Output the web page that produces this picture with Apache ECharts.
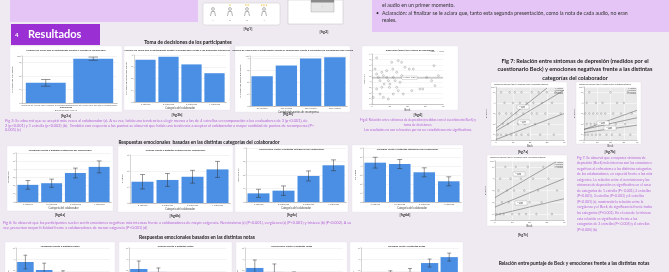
<!DOCTYPE html>
<html><head><meta charset="utf-8">
<script src="https://cdn.jsdelivr.net/npm/echarts@6/dist/echarts.min.js"></script>
<style>html,body{margin:0;padding:0;background:#efe9f1;}#c{width:669px;height:272px;}</style>
</head><body><div id="c"></div>
<script>
// ---------------- DATA ----------------
const fig3aCats = ['Número de veces que rechazó al colaborador', 'Número de veces que aceptó al colaborador'];
const fig3aVals = [1.5, 3.3];
const fig3aErr = [0.25, 0.12];
const starCats = ['1 estrella', '2 estrellas', '3 estrellas', '4 estrellas'];
const fig3bVals = [3.6, 3.85, 3.2, 2.45];
const pointCats = ['50 puntos', '100 puntos', '150 puntos', '200 puntos'];
const fig3cVals = [2.5, 3.4, 4.0, 4.1];
const fig4Beck = [2.6,1.7,2.6,3.6,4.5,5.5,6.4,6.8,8.3,8.3,9.2,9.8,10.1,11.1,11.7,12.0,13.0,13.9,13.9,14.8,14.8,15.8,16.7,16.7,17.6,18.6,21.0,22.4,23.3,22.4,27.0,28.6,30.8,33.6,34.9,35.5,37.4,0.7,4.5,6.4,9.2,12.0,17.6,2.6,5.5];
const fig4Dec  = [8.3,6.3,5.4,4.8,4.2,5.7,5.1,3.6,6.0,4.8,4.2,3.0,3.6,7.5,6.3,4.8,4.2,5.7,3.0,7.8,2.4,3.9,7.5,5.1,4.8,6.6,6.3,4.8,6.3,2.4,2.7,2.7,4.8,4.2,6.9,3.3,5.1,1.2,1.8,1.2,0.9,1.8,1.8,2.7,3.0];
const fig4Fit = [[0, 4.7], [40, 4.7]];
const fig6aVals = [2.1, 2.3, 3.55, 4.3];   const fig6aErr = [0.53, 0.5, 0.6, 0.73];
const fig6bVals = [1.33, 1.44, 1.64, 2.1]; const fig6bErr = [0.45, 0.4, 0.4, 0.5];
const fig6cVals = [0.64, 0.84, 1.93, 2.72];const fig6cErr = [0.3, 0.35, 0.37, 0.4];
const fig6dVals = [4.37, 4.22, 3.3, 2.3];  const fig6dErr = [0.6, 0.5, 0.5, 0.5];
const notaCats = ['Nota 1', 'Nota 2', 'Nota 3', 'Nota 4', 'Nota 5'];
const fig8aVals = [3.77, 3.07, 2.5, 2.0, 1.6]; const fig8aErr = [0.6, 0.6, 0.5, 0.5, 0.4];
const fig8bVals = [3.16, 2.9, 2.3, 2.0, 1.8];  const fig8bErr = [0.7, 0.35, 0.4, 0.4, 0.4];
const fig8cVals = [3.25, 2.9, 2.4, 2.0, 1.7];  const fig8cErr = [0.7, 0.7, 0.5, 0.4, 0.4];
const fig8dVals = [1.0, 2.6, 2.8, 3.68, 4.2];  const fig8dErr = [0.3, 0.4, 0.4, 0.35, 0.35];
const fig7aPts = [[3,5],[8,5],[11,5],[15,5],[21,5],[25,5],[30,5],[35,5],[5,4],[10,4],[14,4],[18,4],[22,4],[27,4],[33,4],[2,3],[6,3],[9,3],[12,3],[16,3],[21,3],[24,3],[29,3],[38,3],[4,2],[7,2],[13,2],[17,2],[23,2],[31,2],[1,1],[3,1],[6,1],[9,1],[12,1],[15,1],[19,1],[26,1],[34,1]];
const fig7aLines = [[[0,1.6],[30,5.4]], [[0,1.35],[40,5.2]], [[0,0.55],[40,3.0]]];
const fig7bPts = [[4,5],[20,5],[33,5],[2,4],[9,4],[14,4],[25,4],[30,4],[1,3],[4,3],[7,3],[10,3],[13,3],[16,3],[22,3],[28,3],[36,3],[2,2],[5,2],[8,2],[11,2],[15,2],[19,2],[24,2],[31,2],[1,1],[3,1],[6,1],[9,1],[12,1],[17,1],[21,1],[27,1],[35,1]];
const fig7bLines = [[[0,1.5],[40,3.3]], [[0,1.5],[40,2.6]], [[0,1.2],[40,1.9]]];
const fig7cPts = [[6,5],[12,5],[19,5],[28,5],[3,4],[9,4],[15,4],[22,4],[31,4],[2,3],[7,3],[11,3],[17,3],[25,3],[36,3],[4,2],[8,2],[13,2],[20,2],[27,2],[1,1],[3,1],[5,1],[10,1],[14,1],[18,1],[24,1],[33,1]];
const fig7cLines = [[[0,2.4],[35,5.4]], [[0,1.6],[40,4.0]], [[0,0.9],[40,2.3]]];

// ---------------- BUILD ----------------
const BLUE = '#4a8fe3', PURPLE_T = '#b566da', FONT = 'Lato, "Noto Sans", sans-serif';
const grids = [], xAxes = [], yAxes = [], series = [], gfx = [];
function txt(x, y, s, size, color, o = {}) {
  gfx.push({type:'text', x, y, z: o.z ?? 20, rotation: o.rot || 0, silent:true,
    style:{text:s, fontSize:size, fontFamily:o.family || FONT, fontWeight:o.bold ? 'bold' : 'normal',
      fill:color, align:o.align || 'left', verticalAlign:'middle'}});
}
function rect(x, y, w, h, fill, o = {}) {
  gfx.push({type:'rect', z: o.z ?? -5, silent:true, shape:{x, y, width:w, height:h, r:o.r || 0},
    style:{fill, stroke:o.stroke || null, lineWidth:o.lw || 0.5}});
}
function mkGrid(box, extra = {}) {
  return Object.assign({left:box[0], top:box[1], width:box[2], height:box[3], outerBoundsMode:'none', containLabel:false}, extra);
}
function errBars(i, vals, errs) {
  return {type:'custom', xAxisIndex:i, yAxisIndex:i, z:5, silent:true,
    data: vals.map((v, k) => [k, v - errs[k], v + errs[k]]),
    renderItem(p, api) {
      const lo = api.coord([api.value(0), api.value(1)]);
      const hi = api.coord([api.value(0), api.value(2)]);
      const w = api.size([1, 0])[0] * 0.1;
      const st = {stroke:'#333', lineWidth:0.5};
      return {type:'group', children:[
        {type:'line', shape:{x1:lo[0], y1:lo[1], x2:hi[0], y2:hi[1]}, style:st},
        {type:'line', shape:{x1:hi[0]-w, y1:hi[1], x2:hi[0]+w, y2:hi[1]}, style:st},
        {type:'line', shape:{x1:lo[0]-w, y1:lo[1], x2:lo[0]+w, y2:lo[1]}, style:st}]};
    }};
}
const axLbl = {fontSize:2.4, color:'#555', margin:1.5};
function bar(box, cats, vals, errs, yMax, yInt, o = {}) {
  const i = grids.length;
  grids.push(mkGrid(box));
  xAxes.push({gridIndex:i, type:'category', data:cats, name:o.xName || '', nameLocation:'middle', nameGap:5,
    nameTextStyle:{fontSize:2.6, color:'#444'}, axisLine:{lineStyle:{color:'#999', width:0.5}},
    axisTick:{show:true, length:1, lineStyle:{width:0.4, color:'#999'}}, axisLabel:Object.assign({interval:0}, axLbl)});
  yAxes.push({gridIndex:i, type:'value', min:0, max:yMax, interval:yInt, name:o.yName || '', nameLocation:'middle',
    nameGap:6, nameRotate:90, nameTextStyle:{fontSize:2.4, color:'#444'},
    splitLine:{lineStyle:{color:'#e6e6e6', width:0.5}}, axisLine:{show:true, lineStyle:{color:'#aaa', width:0.5}},
    axisTick:{show:true, length:1.2, lineStyle:{color:'#aaa', width:0.4}}, axisLabel:axLbl});
  series.push({type:'bar', xAxisIndex:i, yAxisIndex:i, data:vals, barCategoryGap:o.gap || '12%', itemStyle:{color:BLUE}, silent:true});
  if (errs) series.push(errBars(i, vals, errs));
}
function scat(box, pts, lines, o = {}) {
  const i = grids.length;
  grids.push(mkGrid(box, {show:!!o.bg, backgroundColor:o.bg || 'transparent', borderWidth:0}));
  xAxes.push({gridIndex:i, type:'value', min:0, max:40, interval:10, name:o.xName || '', nameLocation:'middle', nameGap:5,
    nameTextStyle:{fontSize:2.6, color:'#444'}, axisLine:{lineStyle:{color:'#999', width:0.5}},
    splitLine:{show:!!o.bg, lineStyle:{color:'#fff', width:0.5}},
    axisTick:{show:true, length:1, lineStyle:{width:0.4, color:'#999'}}, axisLabel:axLbl});
  yAxes.push({gridIndex:i, type:'value', min:o.yMin, max:o.yMax, interval:o.yInt, name:o.yName || '', nameLocation:'middle',
    nameGap:6, nameRotate:90, nameTextStyle:{fontSize:2.4, color:'#444'},
    splitLine:{show:true, lineStyle:{color:o.bg ? '#fff' : '#ececec', width:0.5}}, axisLine:{show:true, lineStyle:{color:'#999', width:0.5}},
    axisTick:{show:true, length:1, lineStyle:{color:'#999', width:0.4}}, axisLabel:axLbl});
  series.push({type:'scatter', xAxisIndex:i, yAxisIndex:i, data:pts, symbolSize:o.sym || 2, silent:true,
    itemStyle:{color:'rgba(255,255,255,0.6)', borderColor:'#666', borderWidth:0.4}});
  lines.forEach(l => series.push({type:'line', xAxisIndex:i, yAxisIndex:i, data:l, symbol:'none', silent:true,
    lineStyle:{color:'#555', width:0.5}}));
}
function panel(x, y, w, h, title) { rect(x, y, w, h, '#ffffff', {stroke:'#e4e0e8', lw:0.4}); txt(x + w / 2, y + 4, title, 2.6, '#333', {align:'center', bold:true}); }

// ---- top area ----
rect(10, 0, 188, 22, '#e4c5f5', {z:-6});
rect(203, 3, 77, 22, '#ffffff', {stroke:'#c9c9c9', r:2});
[213, 230, 247, 264].forEach((x, k) => {
  gfx.push({type:'circle', z:10, silent:true, shape:{cx:x, cy:9, r:1.4}, style:{fill:'none', stroke:'#666', lineWidth:0.5}});
  gfx.push({type:'polyline', z:10, silent:true, shape:{points:[[x-2.5,16],[x-1.5,11.5],[x+1.5,11.5],[x+2.5,16]]}, style:{fill:'none', stroke:'#666', lineWidth:0.5}});
  txt(x, 20.5, String(k + 1), 2.4, '#555', {align:'center'});
  if (k > 0) txt(x, 5.3, '★'.repeat(k), 2.6, '#e8b923', {align:'center', family:'DejaVu Sans'});
});
txt(248, 29, '[fig1]', 3.8, '#333', {align:'center', bold:true});
rect(288, 0, 55, 24, '#ffffff', {stroke:'#bdbdbd'});
rect(311, 0, 23, 12, '#e6e6e6', {stroke:'#9a9a9a', lw:0.4});
rect(311, 0, 23, 2.5, '#8a8a8a');
txt(322.5, 7, '·', 3, '#666', {align:'center'});
txt(316, 22.2, '— — — —', 2, '#777', {align:'center'});
txt(324, 31.5, '[fig2]', 3.8, '#333', {align:'center', bold:true});
rect(372, 0, 297, 32, '#e4c5f5', {z:-6});
txt(382, 5, 'el audio en un primer momento.', 5.2, '#333');
txt(376, 13, '•', 5.2, '#333');
txt(382, 13, 'Aclaración: al finalizar se le aclara que, tanto esta segunda presentación, como la nota de cada audio, no eran', 5.2, '#333');
txt(382, 20.5, 'reales.', 5.2, '#333');

// ---- header ----
rect(11, 24, 89, 21, '#9a2fd3', {z:-6});
txt(15, 35, '4', 6, '#ffffff', {bold:true});
txt(28, 34.5, 'Resultados', 11, '#ffffff', {bold:true});
txt(188, 42, 'Toma de decisiones de los participantes', 5, '#222', {align:'center', bold:true});

// ---- row 1 ----
panel(10, 46, 112, 66, 'Número de veces que el participante aceptó o rechazó al colaborador');
bar([22, 56, 95, 47], fig3aCats, fig3aVals, fig3aErr, 3.5, 1, {gap:'16%', yName:'Promedio de respuestas'});
txt(66, 107.5, 'Decisiones', 2.6, '#444', {align:'center', bold:true});
txt(66, 110.5, 'Barras de error: 95% IC', 2.2, '#666', {align:'center'});
txt(66, 116, '[fig3a]', 3.8, '#333', {align:'center', bold:true});

panel(124, 46, 106, 64, 'Número de veces que el participante aceptó al colaborador frente a las diferentes categorías');
bar([134, 55, 92, 47], starCats, fig3bVals, null, 4, 1, {xName:'Categoría del colaborador', yName:'Promedio de veces que aceptó'});
txt(177, 115, '[fig3b]', 3.8, '#333', {align:'center', bold:true});

panel(235, 46, 115, 66, 'Número de veces que el participante aceptó al colaborador frente a los puntos de recompensa que ofrecía');
bar([250, 56, 97, 50], pointCats, fig3cVals, null, 4.2, 1, {xName:'Cantidad de puntos de recompensa', yName:'Promedio de veces que aceptó'});
txt(288, 114, '[fig3c]', 3.8, '#333', {align:'center', bold:true});

panel(362, 46, 96, 64, 'Depresión (Beck) en la toma de decisiones');
scat([372, 54, 71, 50], fig4Beck.map((b, k) => [b, fig4Dec[k]]), [fig4Fit], {yMin:0, yMax:9, yInt:1, xName:'Beck', yName:'Decisión'});
txt(444, 51.5, '○ Total   — Lineal', 2, '#666', {align:'right'});
rect(402, 76, 15, 3.5, '#ffffff', {stroke:'#999', lw:0.3, z:12});
txt(409.5, 77.8, 'R² Lineal = 0,005', 1.6, '#444', {align:'center', z:13});
txt(418, 115, '[fig4]', 3.8, '#333', {align:'center', bold:true});
txt(418, 120, 'Fig.4: Relación entre síntomas de depresión (medidos con el cuestionario Beck) y', 3.3, PURPLE_T, {align:'center'});
txt(418, 124.5, 'toma de decisiones.', 3.3, PURPLE_T, {align:'center'});
txt(418, 129.5, 'Los resultados no son relevantes por no ser estadísticamente significativos.', 3.3, PURPLE_T, {align:'center'});

txt(5, 121, 'Fig 3: Se observó que se aceptó más veces al colaborador (a). A su vez, había una tendencia a elegir menos a los de 4 estrellas en comparación a los evaluadores de 3 (p<0.001), de', 3.9, PURPLE_T);
txt(5, 125.6, '2 (p<0.001) y 1 estrella (p<0.002) (b).  También con respecto a los puntos se observó que había una tendencia a aceptar al colaborador a mayor cantidad de puntos de recompensa (P<', 3.9, PURPLE_T);
txt(5, 130.2, '0.001) (c)', 3.9, PURPLE_T);

// ---- row 2 ----
txt(199, 142, 'Respuestas emocionales  basadas en las distintas categorías del colaborador', 4.8, '#222', {align:'center', bold:true});
panel(7, 146, 106, 65, 'Vergüenza frente a distintas categorías del colaborador');
bar([16, 153, 95, 49], starCats, fig6aVals, fig6aErr, 6, 1, {xName:'Categoría del colaborador', yName:'Vergüenza'});
txt(60, 214.5, '[fig6a]', 3.8, '#333', {align:'center', bold:true});
panel(118, 146, 115, 66, 'Tristeza frente a distintas categorías del colaborador');
bar([130, 155, 100, 48], starCats, fig6bVals, fig6bErr, 3, 1, {xName:'Categoría del colaborador', yName:'Tristeza'});
txt(175, 216, '[fig6b]', 3.8, '#333', {align:'center', bold:true});
panel(235, 145, 113, 67, 'Nerviosismo frente a distintas categorías del colaborador');
bar([246, 148, 100, 54], starCats, fig6cVals, fig6cErr, 4, 1, {xName:'Categoría del colaborador', yName:'Nerviosismo'});
txt(292, 214.5, '[fig6c]', 3.8, '#333', {align:'center', bold:true});
panel(352, 145, 111, 67, 'Felicidad frente a distintas categorías del colaborador');
bar([363, 148, 98, 54], starCats, fig6dVals, fig6dErr, 6, 1, {xName:'Categoría del colaborador', yName:'Felicidad'});
txt(405, 214.5, '[fig6d]', 3.8, '#333', {align:'center', bold:true});
txt(3, 222.7, 'Fig 6: Se observó que los participantes suelen sentir emociones negativas más intensas frente a colaboradores de mayor exigencia. Nerviosismo (c) (P<0.001), vergüenza (a) (P<0.001) y tristeza (b) (P<0.002). A su', 3.8, PURPLE_T);
txt(3, 227.3, 'vez, presentan mayor felicidad frente a colaboradores de menor exigencia (P<0.001) (d)', 3.8, PURPLE_T);

// ---- row 3 ----
txt(197, 237.7, 'Respuestas emocionales basados en las distintas notas', 4.8, '#222', {align:'center', bold:true});
panel(5, 242, 110, 40, 'Vergüenza frente a distintas notas');
bar([16, 248, 94, 57], notaCats, fig8aVals, fig8aErr, 5, 1, {yName:'Vergüenza'});
panel(119, 242, 113, 40, 'Tristeza frente a distintas notas');
bar([129, 248, 98, 57], notaCats, fig8bVals, fig8bErr, 5, 1, {yName:'Tristeza'});
panel(236, 242, 111, 40, 'Nerviosismo frente a distintas notas');
bar([245, 248, 98, 57], notaCats, fig8cVals, fig8cErr, 5, 1, {yName:'Nerviosismo'});
panel(350, 242, 113, 40, 'Felicidad frente a distintas notas');
bar([361, 248, 98, 57], notaCats, fig8dVals, fig8dErr, 5, 1, {yName:'Felicidad'});

// ---- right column ----
txt(575, 61, 'Fig 7: Relación entre síntomas de depresión (medidos por el', 5.6, '#222', {align:'center', bold:true});
txt(575, 69.5, 'cuestionario Beck) y emociones negativas frente a las distintas', 5.6, '#222', {align:'center', bold:true});
txt(575, 78, 'categorías del colaborador', 5.6, '#222', {align:'center', bold:true});
function fig7(px, py, pw, ph, title, box, pts, lines, boxes) {
  rect(px, py, pw, ph, '#ffffff', {stroke:'#e0e0e0', lw:0.4});
  txt(px + 3, py + 2.2, title, 1.7, '#444');
  scat(box, pts, lines, {yMin:0.5, yMax:5.5, bg:'#e9e9e9', sym:1.6, xName:'Beck', yName:'Emoción'});
  const lx = box[0] + box[2] - 1;
  ['○ 1 estrella', '○ 2 estrellas', '○ 3 estrellas', '○ 4 estrellas'].forEach((s, k) => txt(lx, box[1] + 1.2 + k * 1.9, s, 1.6, '#555', {align:'right', z:14}));
  boxes.forEach(b => { rect(b[0], b[1], 12, 4, '#ffffff', {stroke:'#888', lw:0.3, z:12}); txt(b[0] + 6, b[1] + 1.2, 'R² Lineal =', 1.5, '#444', {align:'center', z:13}); txt(b[0] + 6, b[1] + 2.9, b[2], 1.5, '#444', {align:'center', z:13}); });
}
fig7(491, 82, 76, 64, 'Síntomas de depresión (Beck) y vergüenza frente a las distintas categorías', [496, 87, 68, 53], fig7aPts, fig7aLines, [[517, 105, '0,311'], [518, 120, '0,214']]);
txt(523, 152, '[fig7a]', 3.8, '#333', {align:'center', bold:true});
fig7(576, 82, 65, 62, 'Síntomas de depresión (Beck) y tristeza frente a las distintas categorías', [584, 87, 53, 53], fig7bPts, fig7bLines, [[597, 121, '0,156'], [604, 126, '0,082']]);
txt(610, 152, '[fig7b]', 3.8, '#333', {align:'center', bold:true});
fig7(487, 155, 80, 71, 'Síntomas de depresión (Beck) y nerviosismo frente a las distintas categorías', [495, 161, 69, 59], fig7cPts, fig7cLines, [[513, 172, '0,298'], [515, 201, '0,187']]);
txt(523, 234.5, '[fig7c]', 3.8, '#333', {align:'center', bold:true});
const cap7 = ['Fig 7: Se observó que a mayores síntomas de', 'depresión (Beck) más intensas son las emociones', 'negativas al enfrentarse a las distintas categorías', 'de los colaboradores, en especial frente a los más', 'exigentes. La relación entre el nerviosismo y los', 'síntomas de depresión es significativa en el caso', 'de categorías de 1 estrella (P< 0.001), 2 estrellas', '(P<0.001), 3 estrellas (P<0.001) y 4 estrellas', '(P<0.001) (c), mostrando la relación entre la', 'vergüenza y el Beck, de significancia frente todas', 'las categorías (P<0.001). En el caso de la tristeza', 'esta relación es significativa frente a las', 'categorías de 3 estrellas (P< 0.005) y 4 estrellas', '(P<0.005) (b).'];
cap7.forEach((s, k) => txt(577, 157.5 + k * 5.54, s, 3.5, PURPLE_T));
txt(574, 263, 'Relación entre puntaje de Beck y emociones frente a las distintas notas', 4.8, '#222', {align:'center', bold:true});

const chart = echarts.init(document.getElementById('c'), null, {renderer:'canvas'});
chart.setOption({animation:false, backgroundColor:'#efe9f1', grid:grids, xAxis:xAxes, yAxis:yAxes, series, graphic:gfx});
</script></body></html>
